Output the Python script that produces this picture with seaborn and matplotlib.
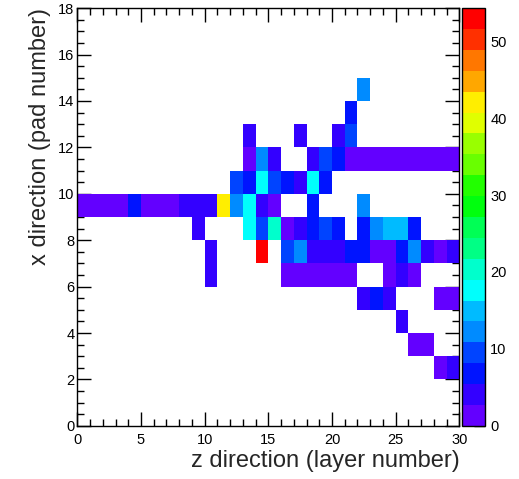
import colorsys
import numpy as np
import pandas as pd
import matplotlib
matplotlib.use("Agg")
import matplotlib.pyplot as plt
from matplotlib.colors import ListedColormap
from matplotlib.ticker import MultipleLocator
import seaborn as sns

# filled bins: layer (z), pad (x), energy
layer = [22,
         21,
         13, 17, 20, 21,
         13, 14, 15, 18, 19, 20, 21, 22, 23, 24, 25, 26, 27, 28, 29,
         12, 13, 14, 15, 16, 17, 18, 19,
         0, 1, 2, 3, 4, 5, 6, 7, 8, 9, 10, 11, 12, 13, 14, 15, 18, 22,
         9, 13, 14, 15, 16, 17, 18, 19, 20, 22, 23, 24, 25, 26,
         10, 14, 16, 17, 18, 19, 20, 21, 22, 23, 24, 25, 26, 27, 28, 29,
         10, 16, 17, 18, 19, 20, 21, 24, 25, 26,
         22, 23, 24, 28, 29,
         25,
         26, 27,
         28, 29]
pad = [14,
       13,
       12, 12, 12, 12,
       11, 11, 11, 11, 11, 11, 11, 11, 11, 11, 11, 11, 11, 11, 11,
       10, 10, 10, 10, 10, 10, 10, 10,
       9, 9, 9, 9, 9, 9, 9, 9, 9, 9, 9, 9, 9, 9, 9, 9, 9, 9,
       8, 8, 8, 8, 8, 8, 8, 8, 8, 8, 8, 8, 8, 8,
       7, 7, 7, 7, 7, 7, 7, 7, 7, 7, 7, 7, 7, 7, 7, 7,
       6, 6, 6, 6, 6, 6, 6, 6, 6, 6,
       5, 5, 5, 5, 5,
       4,
       3, 3,
       2, 2]
energy = [12,
          7,
          4, 4, 4.5, 9,
          1.5, 12, 4, 4, 9.5, 7, 1.5, 1.5, 1.5, 1.5, 1.5, 1.5, 1.5, 1.5, 1.5,
          9.5, 6.5, 17.5, 9.5, 7, 4, 17.5, 7,
          1.5, 1.5, 1.5, 1.5, 6.5, 1.5, 1.5, 1.5, 4, 4, 4, 42, 12, 17.5, 4, 2, 7, 12,
          4, 17.5, 9.5, 21.5, 2, 4, 7, 9.5, 7, 7, 12, 15, 14, 7,
          4, 54, 9.5, 12, 4, 4, 4, 6.5, 7, 2, 2, 7, 12, 4, 1.5, 4,
          4, 1.5, 1.5, 1.5, 1.5, 1.5, 1.5, 1.5, 4, 1.5,
          4, 7, 4, 1.5, 1.5,
          4,
          1.5, 1.5,
          1.5, 4]

df = pd.DataFrame({"z": np.array(layer) + 0.5, "x": np.array(pad) + 0.5, "e": energy})

# ROOT style pretty palette, 20 contour levels
pal = []
for i in range(20):
    idx = int((i + 0.99) * 50 / 20)
    hue = 280 - (idx + 1) * 5.6
    pal.append(colorsys.hls_to_rgb(hue / 360.0, 0.5, 1.0))
cmap = ListedColormap(pal)

sns.set_theme(style="white")
plt.rcParams["font.family"] = ["Liberation Sans", "DejaVu Sans"]

fig = plt.figure(figsize=(5.19, 4.79), dpi=100)
ax = fig.add_axes([0.149, 0.111, 0.736, 0.872])
cax = fig.add_axes([0.890, 0.111, 0.044, 0.872])

sns.histplot(data=df, x="z", y="x", weights="e", bins=(30, 18),
             binrange=((0, 30), (0, 18)), cmap=cmap, vmin=0, vmax=54.3,
             cbar=True, cbar_ax=cax, ax=ax)
ax.collections[0].set_clim(0, 54.3)

ax.set_xlim(0, 30)
ax.set_ylim(0, 18)
ax.xaxis.set_major_locator(MultipleLocator(5))
ax.xaxis.set_minor_locator(MultipleLocator(1))
ax.yaxis.set_major_locator(MultipleLocator(2))
ax.yaxis.set_minor_locator(MultipleLocator(0.5))
ax.tick_params(which="both", direction="in", top=True, right=True,
               bottom=True, left=True, colors="black", labelsize=10.5, pad=2)
ax.tick_params(axis="x", which="both", pad=5)
ax.tick_params(which="major", length=10, width=1)
ax.tick_params(which="minor", length=5, width=1)
for s in ax.spines.values():
    s.set_color("black")
    s.set_linewidth(1)

ax.set_xlabel("z direction (layer number)", loc="right", fontsize=17, labelpad=2)
ax.set_ylabel("x direction (pad number)", loc="top", fontsize=17, labelpad=5)

cax.yaxis.set_major_locator(MultipleLocator(10))
cax.tick_params(which="both", direction="in", right=True, left=False,
                labelright=True, labelleft=False, length=8, width=1,
                labelsize=10.5, pad=4, colors="black")
for s in cax.spines.values():
    s.set_color("black")
    s.set_linewidth(1)

fig.savefig("out.png", dpi=100, facecolor="white")
